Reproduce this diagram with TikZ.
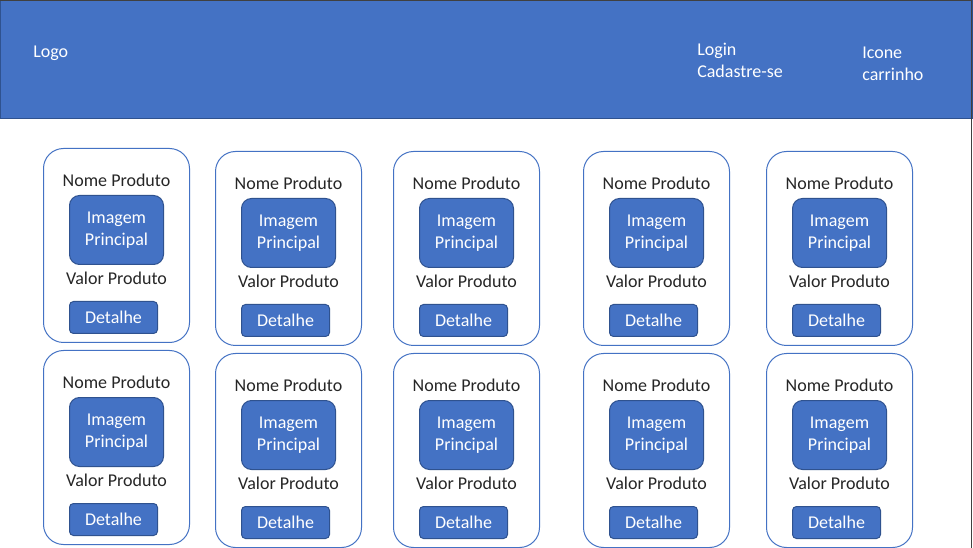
\documentclass[tikz,border=0pt]{standalone}
\usepackage{fontspec}
\setmainfont{Carlito}
\usetikzlibrary{positioning}
\definecolor{azul}{HTML}{4472C4}
\definecolor{azulescuro}{HTML}{2F528F}
\definecolor{borda}{HTML}{404040}

\begin{document}
\begin{tikzpicture}[
		x=0.75pt, y=-0.75pt,
		% Style definitions for the page mockup
		cabecalho/.style={draw=azulescuro, fill=azul, line width=0.75pt, minimum width=729pt, minimum height=88.5pt, anchor=north west, inner sep=0pt},
		card/.style={draw=azul, line width=0.75pt, rounded corners=15pt, minimum width=109.5pt, minimum height=145.5pt, anchor=north west, inner sep=0pt},
		imagem/.style={draw=azulescuro, fill=azul, line width=0.75pt, rounded corners=7.5pt, minimum width=70.5pt, minimum height=51.75pt, text=white, align=center, inner sep=0pt, font=\fontsize{13.5}{16.5}\selectfont},
		botao/.style={draw=azulescuro, fill=azul, line width=0.75pt, rounded corners=3pt, minimum width=66pt, minimum height=24pt, text=white, inner sep=0pt, font=\fontsize{13.5}{16.5}\selectfont},
		texto/.style={text=black!85, inner sep=0pt, font=\fontsize{13.5}{16.5}\selectfont},
		topo/.style={text=white, align=left, anchor=west, inner sep=0pt, font=\fontsize{13.5}{16.5}\selectfont},
		]
		\useasboundingbox[fill=white] (0,0) rectangle (973,548);

		% === Header bar ===
		\node[cabecalho] (header) at (0,0) {};
		\draw[borda, line width=1pt] (0,0.6) -- (972,0.6);
		\draw[borda, line width=1pt] (971.6,0) -- (971.6,548);

		\node[topo] (logo) at (33,53) {Logo};
		\node[topo] (login) at (697,60) {Login\\Cadastre-se};
		\node[topo] (carrinho) at (862,64) {Icone\\carrinho};

		% === Product cards (two rows of five) ===
		\foreach \n/\cx/\cy in {a1/43/148, a2/215/151, a3/393/151, a4/583/151, a5/766/151,
				b1/43/350, b2/215/353, b3/393/353, b4/583/353, b5/766/353} {
			\node[card] (card\n) at (\cx,\cy) {};
			\node[texto, below=24.5pt of card\n.north, anchor=center] (nome\n) {Nome Produto};
			\node[imagem, below=35.25pt of card\n.north] (imagem\n) {Imagem\\Principal};
			\node[texto, below=97.5pt of card\n.north, anchor=center] (valor\n) {Valor Produto};
			\node[botao, below=114.75pt of card\n.north, xshift=-2.25pt] (detalhe\n) {Detalhe};
		}

	\end{tikzpicture}
\end{document}
